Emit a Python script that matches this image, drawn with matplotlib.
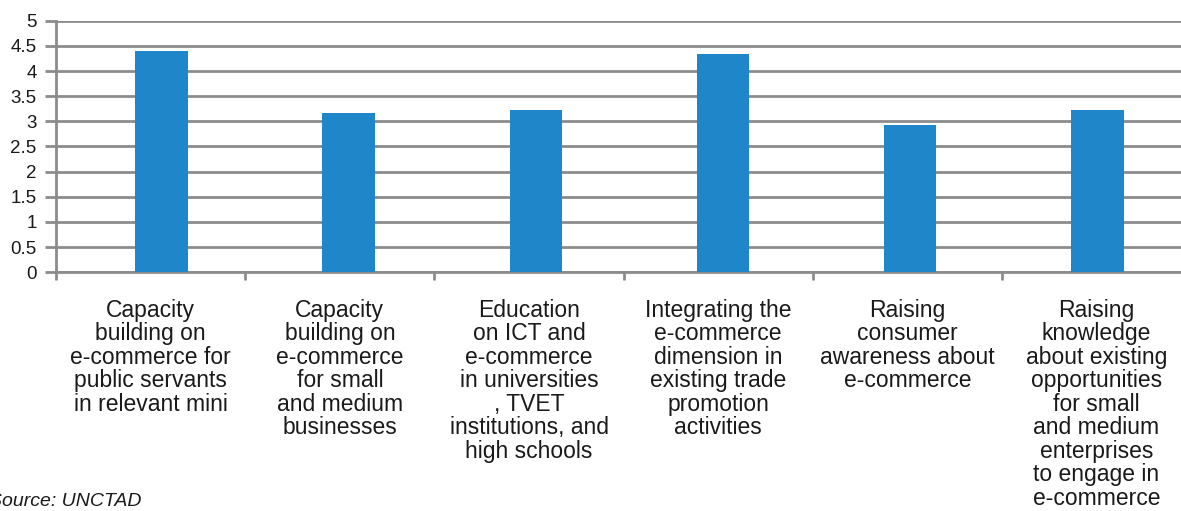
import matplotlib
matplotlib.use('Agg')
import matplotlib.pyplot as plt
import numpy as np

# Values
categories = [
    "Capacity\nbuilding on\ne-commerce for\npublic servants\nin relevant mini",
    "Capacity\nbuilding on\ne-commerce\nfor small\nand medium\nbusinesses",
    "Education\non ICT and\ne-commerce\nin universities\n, TVET\ninstitutions, and\nhigh schools",
    "Integrating the\ne-commerce\ndimension in\nexisting trade\npromotion\nactivities",
    "Raising\nconsumer\nawareness about\ne-commerce",
    "Raising\nknowledge\nabout existing\nopportunities\nfor small\nand medium\nenterprises\nto engage in\ne-commerce",
]
scores = [4.40, 3.17, 3.23, 4.33, 2.93, 3.23]
y_ticks = [0, 0.5, 1, 1.5, 2, 2.5, 3, 3.5, 4, 4.5, 5]
y_labels = ["0", "0.5", "1", "1.5", "2", "2.5", "3", "3.5", "4", "4.5", "5"]

plt.rcParams['font.family'] = ['Liberation Sans', 'DejaVu Sans']
grey = '#8c8c8c'
blue = '#1f87c9'

W, H = 1181, 511
fig = plt.figure(figsize=(W / 100, H / 100), dpi=100)
ax = fig.add_axes([56 / W, 1 - 272.3 / H, 1 - 56 / W, (272.3 - 20.7) / H])

x = np.arange(len(scores))
ax.bar(x, scores, width=0.28, color=blue, zorder=3)

ax.set_ylim(0, 5)
ax.set_xlim(-0.5625, 5.447)

# category boundaries (slightly wider spacing than the bars in the original)
bounds = -0.562 + 1.0105 * np.arange(len(scores) + 1)
ax.set_xticks(bounds[:-1])
ax.set_xticklabels([])
ax.set_xticks((bounds[:-1] + bounds[1:]) / 2, minor=True)
ax.set_xticklabels(categories, minor=True, fontsize=16.5, linespacing=1.03,
                   va='top', ha='center', color='#1a1a1a')
ax.tick_params(axis='x', which='major', length=6, width=2, color=grey)
ax.tick_params(axis='x', which='minor', length=0, pad=19)

ax.set_yticks(y_ticks)
ax.set_yticklabels(y_labels, fontsize=13.5, color='#1a1a1a')
ax.tick_params(axis='y', length=8, width=2, color=grey, pad=6)

ax.grid(axis='y', color=grey, linewidth=2, zorder=0)
for side in ['top', 'right']:
    ax.spines[side].set_visible(False)
for side in ['left', 'bottom']:
    ax.spines[side].set_color(grey)
    ax.spines[side].set_linewidth(2)

# the "S" is clipped by the left edge in the original
fig.text(-11 / W, 1 - 502 / H, "Source: UNCTAD", fontsize=14, style='italic',
         color='#1a1a1a', va='center', ha='left')

fig.savefig('out.png', dpi=100)
